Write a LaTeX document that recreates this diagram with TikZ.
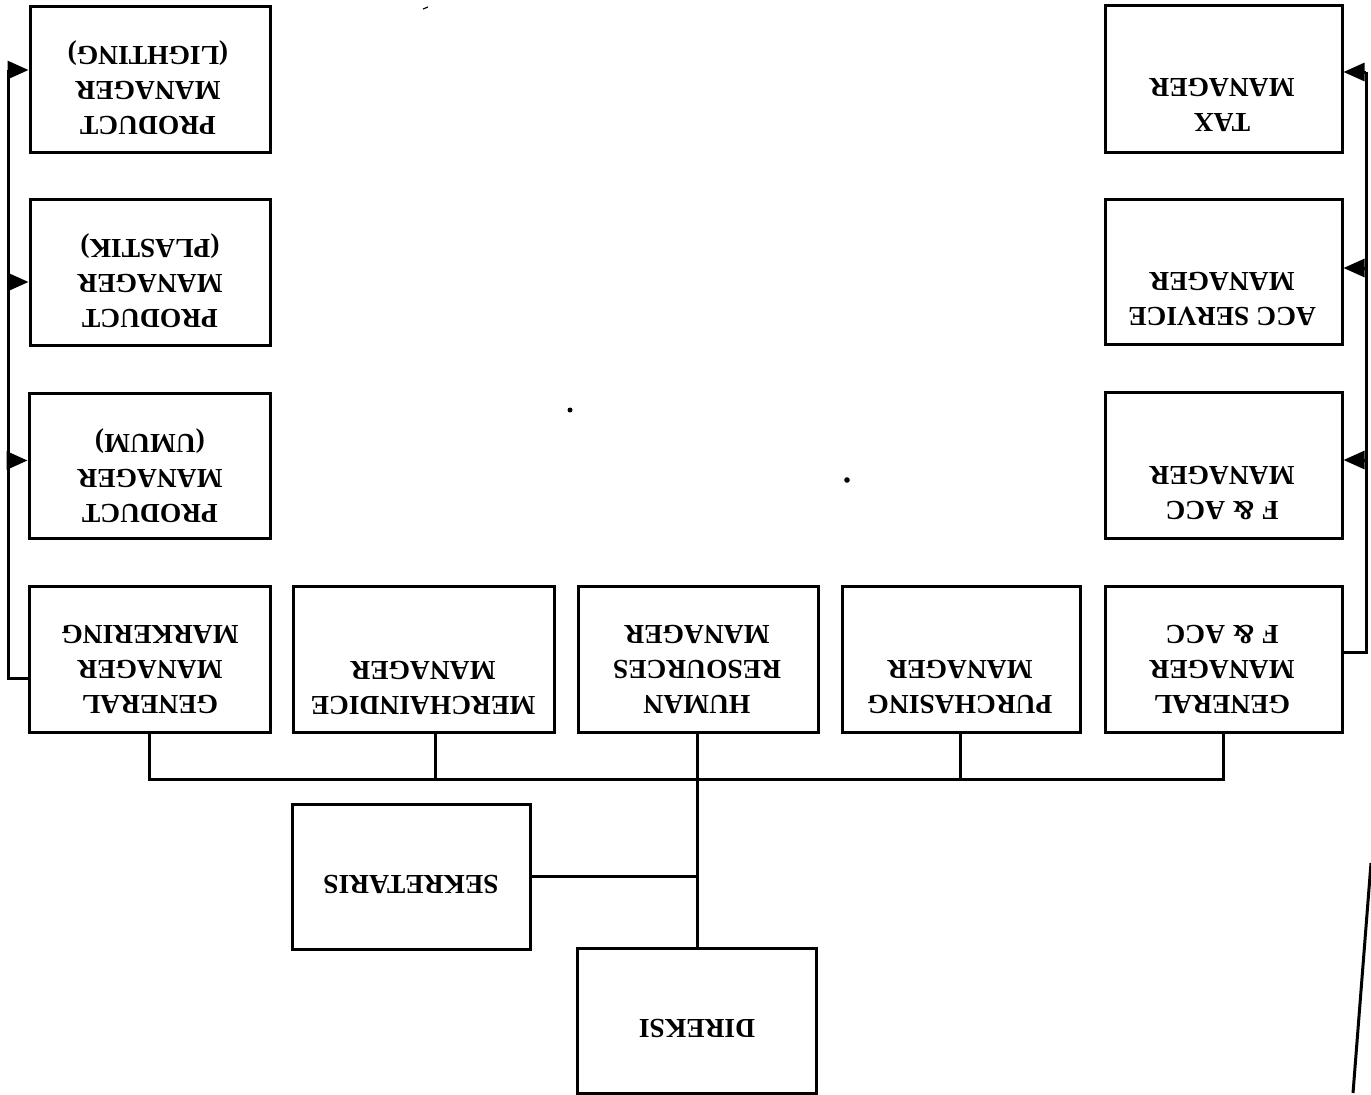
\documentclass[tikz,border=0pt]{standalone}
\usepackage{fontspec}
\setmainfont{Liberation Serif}
\usetikzlibrary{arrows.meta}
\begin{document}
\begin{tikzpicture}[x=1pt,y=-1pt,
  box/.style={draw,line width=3pt,rectangle,inner sep=0pt,minimum width=240pt,minimum height=146pt},
  lbl/.style={rotate=180,align=center,inner sep=0pt,font=\fontsize{27.5}{35}\selectfont\bfseries},
  conn/.style={line width=3pt},
  arr/.style={line width=3pt,-{Triangle[length=21pt,width=18pt]}},
  noise/.style={line width=3pt}]
\useasboundingbox (0,0) rectangle (1371,1095);
% boxes
\node[box] (pl) at (150,79) {};
\node[box] (pp) at (150,272) {};
\node[box,minimum width=241pt,minimum height=145pt] (pu) at (149.5,465.5) {};
\node[box,minimum width=241pt] (gmm) at (149.5,659) {};
\node[box,minimum width=261pt] (mer) at (423.5,659) {};
\node[box] (hr) at (698,659) {};
\node[box,minimum width=238pt] (pur) at (961,659) {};
\node[box,minimum width=237pt] (gmf) at (1223.5,659) {};
\node[box,minimum width=237pt] (fa) at (1223.5,465) {};
\node[box,minimum width=237pt,minimum height=145pt] (acs) at (1223.5,271.5) {};
\node[box,minimum width=237pt,minimum height=147pt] (tax) at (1223.5,78.5) {};
\node[box,minimum width=238pt,minimum height=145pt] (sek) at (411,876.5) {};
\node[box,minimum width=239pt,minimum height=145pt] (dir) at (696.5,1020.5) {};
% labels
\node[lbl] (tpl) at (148,88) {PRODUCT\\MANAGER\\(LIGHTING)};
\node[lbl] (tpp) at (150,281) {PRODUCT\\MANAGER\\(PLASTIK)};
\node[lbl] (tpu) at (150,476) {PRODUCT\\MANAGER\\(UMUM)};
\node[lbl] (tgmm) at (150,669) {GENERAL\\MANAGER\\MARKERING};
\node[lbl] (tmer) at (423,688) {MERCHAINDICE\\MANAGER};
\node[lbl] (thr) at (697,669) {HUMAN\\RESOURCES\\MANAGER};
\node[lbl] (tpur) at (960,687) {PURCHASING\\MANAGER};
\node[lbl] (tgmf) at (1222,669) {GENERAL\\MANAGER\\F \& ACC};
\node[lbl] (tfa) at (1222,493) {F \& ACC\\MANAGER};
\node[lbl] (tacs) at (1222,299) {ACC SERVICE\\MANAGER};
\node[lbl] (ttax) at (1222,105) {TAX\\MANAGER};
\node[lbl] (tsek) at (411,884) {SEKRETARIS};
\node[lbl] (tdir) at (697,1028) {DIREKSI};
% helper coordinates
\coordinate (bus) at (697,779);
\coordinate (xm) at (435,0);
\coordinate (xc) at (697,0);
\coordinate (xp) at (960,0);
\coordinate (L) at (8,0);
\coordinate (R) at (1366,0);
% bus
\draw[conn] (gmm.south) -- (gmm.south |- bus) -- (gmf.south |- bus) -- (gmf.south);
\draw[conn] (mer.south -| xm) -- (xm |- bus);
\draw[conn] (pur.south -| xp) -- (xp |- bus);
\draw[conn] (hr.south -| xc) -- (dir.north -| xc);
\draw[conn] (sek.east) -- (sek.east -| xc);
% left branch
\draw[conn] ([yshift=-19pt]gmm.west) -| ([yshift=9pt]pl.west -| L);
\draw[arr] ([yshift=9pt]pl.west -| L) -- ([yshift=9pt]pl.west);
\draw[arr] ([yshift=-10pt]pp.west -| L) -- ([yshift=-10pt]pp.west);
\draw[arr] ([yshift=5pt]pu.west -| L) -- ([yshift=5pt]pu.west);
% right branch
\draw[conn] ([yshift=7pt]gmf.east) -| ([yshift=6.5pt]tax.east -| R);
\draw[arr] ([yshift=6.5pt]tax.east -| R) -- ([yshift=6.5pt]tax.east);
\draw[arr] ([yshift=3.5pt]acs.east -| R) -- ([yshift=3.5pt]acs.east);
\draw[arr] ([yshift=5pt]fa.east -| R) -- ([yshift=5pt]fa.east);
% scan marks
\draw[noise] (1371,863) -- (1353,1093);
\fill (570,410) circle (2.5pt);
\fill (847,480) circle (2.8pt);
\draw[line width=1.2pt] (423,9) -- (428,7);
\end{tikzpicture}
\end{document}
